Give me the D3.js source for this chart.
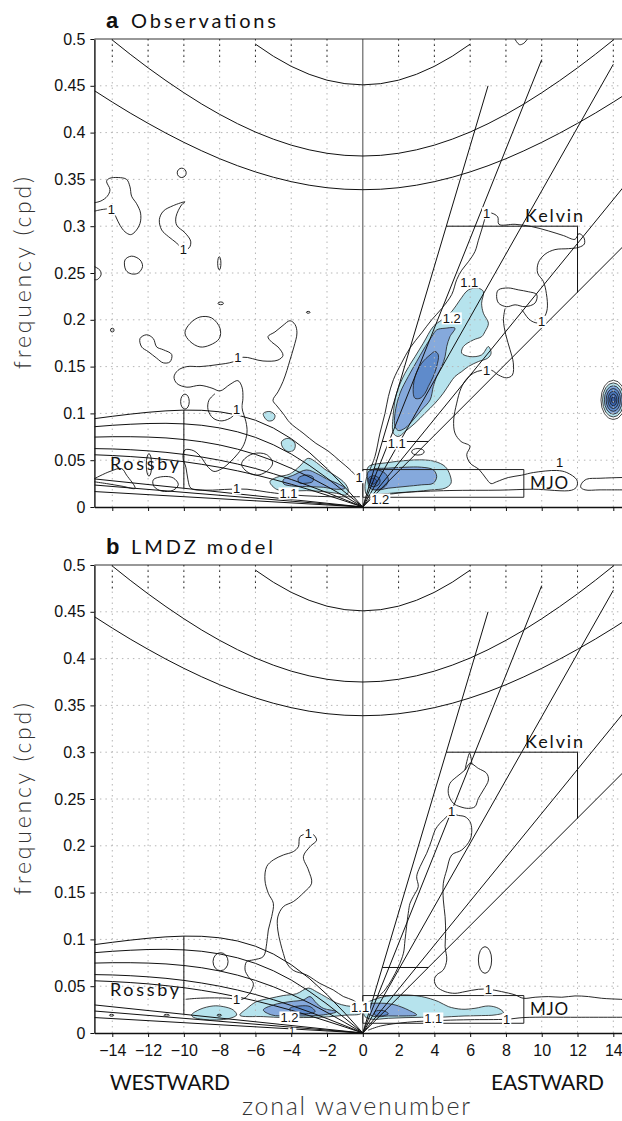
<!DOCTYPE html>
<html>
<head>
<meta charset="utf-8">
<script src="https://d3js.org/d3.v7.min.js"></script>
<style>
  body { margin: 0; background: #fff; }
  svg { display: block; }
</style>
</head>
<body>
<svg id="chart"></svg>
<script>
// ---------- axis values ----------
const xTicks = [-14, -12, -10, -8, -6, -4, -2, 0, 2, 4, 6, 8, 10, 12, 14];
const yTicks = [0, 0.05, 0.1, 0.15, 0.2, 0.25, 0.3, 0.35, 0.4, 0.45, 0.5];

// ---------- theoretical dispersion curves ----------
const erS = [0, -1, -2, -3, -4, -5, -6, -7, -8, -9, -10, -11, -12, -13, -14, -15];
const erH8  = [0, 0.0064, 0.0126, 0.0186, 0.0243, 0.0295, 0.0343, 0.0386, 0.0424, 0.0456, 0.0484, 0.0506, 0.0525, 0.0539, 0.0550, 0.0558];
const erH12 = [0, 0.0078, 0.0154, 0.0226, 0.0294, 0.0356, 0.0411, 0.0459, 0.0500, 0.0534, 0.0562, 0.0584, 0.0600, 0.0612, 0.0620, 0.0624];
const erH25 = [0, 0.0112, 0.0220, 0.0322, 0.0413, 0.0494, 0.0562, 0.0618, 0.0663, 0.0697, 0.0721, 0.0738, 0.0747, 0.0751, 0.0751, 0.0747];
const erH50 = [0, 0.0158, 0.0309, 0.0446, 0.0566, 0.0665, 0.0744, 0.0803, 0.0845, 0.0873, 0.0888, 0.0894, 0.0892, 0.0884, 0.0873, 0.0858];
const erH90 = [0, 0.0212, 0.0410, 0.0585, 0.0730, 0.0844, 0.0927, 0.0983, 0.1017, 0.1033, 0.1035, 0.1027, 0.1012, 0.0992, 0.0969, 0.0944];
const westLineEnds = [0.030, 0.0235, 0.0165];          // f at s = -15, lines from origin

const igS8 = [-15,-14,-13,-12,-11,-10,-9,-8,-7,-6,-5,-4,-3,-2,-1,0,1,2,3,4,5,6,7,8,9,10,11,12,13,14,15];
const igH8 = [0.4448,0.4326,0.4209,0.4099,0.3994,0.3896,0.3805,0.3721,0.3646,0.3580,0.3523,0.3476,0.3438,0.3411,0.3395,0.3390,
              0.3395,0.3411,0.3438,0.3476,0.3523,0.3580,0.3646,0.3721,0.3805,0.3896,0.3994,0.4099,0.4209,0.4326,0.4448];
const igS12 = [-14,-13,-12,-11,-10,-9,-8,-7,-6,-5,-4,-3,-2,-1,0,1,2,3,4,5,6,7,8,9,10,11,12,13,14];
const igH12 = [0.4989,0.4837,0.4692,0.4555,0.4426,0.4305,0.4195,0.4095,0.4006,0.3930,0.3866,0.3816,0.3779,0.3757,0.3750,
               0.3757,0.3779,0.3816,0.3866,0.3930,0.4006,0.4095,0.4195,0.4305,0.4426,0.4555,0.4692,0.4837,0.4989];
const igS25 = [-6,-5,-4,-3,-2,-1,0,1,2,3,4,5,6];
const igH25 = [0.4945,0.4816,0.4708,0.4623,0.4560,0.4523,0.4510,0.4523,0.4560,0.4623,0.4708,0.4816,0.4945];

const kelvinEnds = [[15, 0.287], [15, 0.352], [14, 0.473], [10, 0.478], [7, 0.450]]; // h = 8, 12, 25, 50, 90

const rossbyBox = [[-10, 0.020], [-10, 0.1035]];
const kelvinBoxLow = [[1.09, 0.07], [3.66, 0.07]];
const kelvinBoxHigh = [[4.67, 0.3], [12, 0.3], [12, 0.229]];
const mjoBox = [[0, 0.0104], [9, 0.0104], [9, 0.04], [0, 0.04]];

const boxNames = ['Kelvin', 'MJO', 'Rossby'];
const boxNamePos = [[9.07, 0.305], [9.35, 0.0195], [-14.13, 0.040]];

// ---------- panel a: observations ----------
const obsRossbyCyan = [[-5.19,0.027],[-4.82,0.0317],[-4.07,0.0353],[-3.51,0.0439],[-3.05,0.052],[-2.58,0.0474],[-2.12,0.0403],[-1.46,0.0325],[-1.0,0.0253],[-0.81,0.0182],[-0.9,0.0129],[-1.46,0.0146],[-2.21,0.0164],[-3.14,0.0175],[-4.07,0.0172],[-4.82,0.0189]];
const obsRossbyMid = [[-4.45,0.0289],[-3.85,0.0342],[-3.14,0.0396],[-2.49,0.035],[-1.99,0.0296],[-1.43,0.0253],[-1.0,0.020],[-1.46,0.0189],[-2.21,0.0211],[-3.14,0.0218],[-3.98,0.0225],[-4.41,0.0246]];
const obsRossbyDark = [[-3.61,0.0307],[-3.14,0.0342],[-2.77,0.0317],[-2.81,0.0271],[-3.23,0.0253],[-3.55,0.0258]];
const obsBlobA = [[-5.56,0.100],[-5.19,0.102],[-4.91,0.098],[-5.0,0.093],[-5.28,0.092],[-5.47,0.095]];
const obsBlobB = [[-4.54,0.0698],[-4.17,0.0734],[-3.79,0.068],[-3.85,0.0609],[-4.17,0.0592],[-4.48,0.0638]];
const obsKelvinCyan = [[1.71,0.0788],[1.71,0.1002],[1.89,0.1216],[2.36,0.143],[2.92,0.1607],[3.38,0.175],[3.94,0.1928],[4.41,0.1999],[4.97,0.2088],[5.43,0.2212],[5.9,0.2319],[6.46,0.2337],[6.74,0.2301],[6.64,0.2177],[6.74,0.207],[7.02,0.1963],[6.83,0.1874],[6.64,0.182],[6.18,0.1785],[5.62,0.1714],[5.53,0.1643],[5.99,0.1607],[6.64,0.1625],[7.02,0.1714],[7.17,0.1643],[6.98,0.159],[6.46,0.1554],[5.9,0.1501],[5.53,0.1447],[5.15,0.1394],[4.87,0.1322],[4.5,0.1216],[4.04,0.1109],[3.48,0.1002],[2.92,0.0895],[2.36,0.0806],[1.99,0.0753]];
const obsKelvinMid = [[1.8,0.086],[1.8,0.1002],[2.08,0.1216],[2.54,0.1394],[3.01,0.1554],[3.38,0.1678],[3.85,0.182],[4.13,0.1892],[4.6,0.191],[5.15,0.191],[4.87,0.182],[4.69,0.1714],[4.6,0.1607],[4.41,0.1501],[4.13,0.1394],[3.94,0.1287],[3.76,0.1144],[3.29,0.1038],[2.82,0.0931],[2.36,0.0842],[1.99,0.0817]];
const obsKelvinDark = [[2.82,0.1216],[2.92,0.1394],[3.29,0.1536],[3.76,0.1625],[4.04,0.1661],[4.22,0.1625],[4.13,0.1501],[3.94,0.1394],[3.66,0.1287],[3.48,0.1216],[3.2,0.1162],[2.92,0.1162]];
const obsMjoCyan = [[0.31,0.043],[1.43,0.0475],[2.36,0.0496],[3.29,0.0504],[4.04,0.0486],[4.6,0.0432],[4.87,0.0343],[4.93,0.0254],[4.6,0.0201],[3.85,0.0183],[2.92,0.0165],[1.99,0.0148],[1.24,0.013],[0.59,0.0112],[0.22,0.013],[0.12,0.0219],[0.22,0.0326]];
const obsMjoMid = [[0.5,0.0397],[1.43,0.0415],[2.36,0.0425],[3.29,0.0425],[3.94,0.0397],[4.13,0.0326],[3.94,0.0254],[3.29,0.0237],[2.36,0.0219],[1.43,0.0201],[0.68,0.0183],[0.40,0.0237],[0.35,0.0326]];
const obsMjoDark = [[0.31,0.0379],[0.78,0.0397],[1.24,0.0361],[1.43,0.029],[1.24,0.0219],[0.78,0.0183],[0.40,0.0201],[0.27,0.029]];
const obsMjoCore = [[0.35,0.0315],[0.68,0.0333],[0.96,0.029],[0.87,0.0237],[0.5,0.0219],[0.31,0.0265]];
const obsMjoPeak = [[0.42,0.0300],[0.65,0.0305],[0.78,0.0275],[0.6,0.0245],[0.42,0.026]];

const obsOpenLines = [
  [[-15.01,0.325],[-14.63,0.327],[-14.28,0.332],[-14.13,0.339],[-14.32,0.348],[-14.17,0.351],[-13.67,0.352],[-13.2,0.35],[-13.01,0.342],[-12.92,0.332],[-12.64,0.324],[-12.42,0.314],[-12.45,0.303],[-12.73,0.294],[-12.98,0.291],[-13.29,0.294],[-13.57,0.301],[-13.8,0.31],[-14.0,0.318],[-14.5,0.318],[-15.01,0.316]],
  [[-15.01,0.257],[-14.69,0.253],[-14.63,0.248],[-14.84,0.243],[-15.01,0.243]],
  [[-0.27,0.031],[-0.72,0.040],[-1.27,0.049],[-1.95,0.060],[-2.62,0.068],[-3.34,0.079],[-4.07,0.090],[-4.46,0.100],[-4.80,0.108],[-5.02,0.114],[-4.74,0.123],[-4.46,0.134],[-4.24,0.146],[-4.07,0.157],[-3.85,0.171],[-3.68,0.186],[-3.79,0.195],[-4.07,0.199],[-4.46,0.194],[-4.91,0.187],[-5.30,0.182],[-5.08,0.176],[-4.74,0.171],[-4.46,0.162],[-4.74,0.157],[-5.58,0.156],[-6.70,0.160],[-7.26,0.155],[-8.15,0.152],[-9.10,0.150],[-9.83,0.150],[-10.33,0.146],[-10.55,0.139],[-10.39,0.132],[-9.83,0.128],[-9.10,0.130],[-8.43,0.127],[-7.98,0.124],[-7.42,0.131],[-6.98,0.135],[-6.75,0.128],[-6.70,0.116],[-6.75,0.106],[-6.53,0.091],[-6.47,0.080],[-6.64,0.067],[-6.98,0.057],[-7.42,0.048],[-7.87,0.041],[-8.32,0.038],[-8.71,0.044],[-8.99,0.052],[-9.44,0.060],[-9.94,0.061],[-10.05,0.053],[-9.88,0.042],[-9.77,0.029],[-9.60,0.020],[-8.71,0.018],[-7.42,0.019],[-6.47,0.019],[-5.36,0.016],[-4.52,0.014],[-3.23,0.012],[-1.83,0.011],[-0.16,0.011]],
  [[-6.86,0.109],[-7.26,0.097],[-7.87,0.092],[-8.37,0.095],[-8.65,0.104],[-8.60,0.114],[-8.26,0.121]],
  [[-15.03,0.030],[-14.13,0.038],[-13.48,0.041],[-13.2,0.034],[-12.73,0.020],[-13.39,0.022],[-14.32,0.025],[-15.03,0.027]],
  [[0.40,0.040],[0.68,0.054],[0.96,0.079],[1.24,0.100],[1.43,0.118],[1.71,0.136],[2.17,0.154],[2.64,0.170],[3.29,0.186],[3.85,0.200],[4.41,0.212],[4.97,0.227],[5.25,0.243],[5.53,0.253],[5.9,0.262],[6.27,0.273],[6.46,0.285],[6.64,0.296],[6.83,0.3085],[6.92,0.314]],
  [[6.92,0.314],[7.2,0.314],[7.54,0.310],[7.61,0.302],[8.51,0.302],[9.44,0.2996],[10.37,0.295],[11.21,0.290],[11.86,0.286],[12.08,0.292],[12.35,0.288],[12.38,0.281],[12.08,0.2775],[11.49,0.276],[10.74,0.275],[10.18,0.270],[9.81,0.261],[9.77,0.250],[10.09,0.241],[10.26,0.228],[10.31,0.212],[10.15,0.203],[9.85,0.197],[9.63,0.197],[9.29,0.2006],[9.03,0.207],[8.88,0.211]],
  [[7.95,0.212],[7.86,0.200],[7.99,0.184],[8.23,0.168],[8.41,0.154],[8.36,0.141],[8.04,0.138],[7.58,0.141],[7.2,0.146],[6.64,0.146],[6.18,0.143],[5.81,0.137],[5.49,0.127],[5.25,0.111],[5.08,0.093],[5.15,0.079],[5.49,0.070],[5.99,0.065],[5.81,0.056],[5.99,0.047],[6.5,0.040],[6.87,0.031],[7.17,0.025],[7.48,0.027],[8.13,0.0315],[8.88,0.034],[9.53,0.0368],[10.84,0.039],[11.4,0.0368],[11.96,0.029],[11.96,0.022],[11.68,0.018],[9.53,0.019],[7.67,0.018],[4.87,0.0176],[2.08,0.0154],[0.6,0.013]],
  [[15.1,0.0315],[14.49,0.0315],[13.26,0.0307],[12.51,0.0297],[12.24,0.0254],[12.18,0.0211],[12.42,0.0183],[13.26,0.0183],[15.1,0.0183]],
  [[8.5,0.5],[8.75,0.494],[9.0,0.4955],[9.2,0.5]]
];
const obsClosedLines = [
  [[-9.94,0.326],[-10.12,0.323],[-10.44,0.310],[-10.4,0.301],[-9.94,0.293],[-9.62,0.284],[-9.70,0.277],[-10.03,0.275],[-10.4,0.282],[-10.87,0.289],[-11.24,0.296],[-11.37,0.307],[-11.15,0.316],[-10.59,0.322]],
  [[-13.29,0.264],[-12.92,0.268],[-12.45,0.264],[-12.31,0.257],[-12.55,0.250],[-12.92,0.249],[-13.24,0.253]],
  [[-12.45,0.180],[-12.08,0.184],[-11.71,0.180],[-11.52,0.171],[-11.15,0.168],[-10.68,0.163],[-10.78,0.155],[-11.15,0.154],[-11.52,0.159],[-11.99,0.166],[-12.36,0.171]],
  [[-9.10,0.203],[-8.45,0.202],[-7.98,0.191],[-8.02,0.180],[-8.54,0.173],[-9.10,0.171],[-9.66,0.177],[-9.94,0.186],[-9.66,0.196]],
  [[-11.71,0.029],[-11.15,0.0325],[-10.59,0.031],[-10.31,0.024],[-10.59,0.018],[-11.24,0.017],[-11.67,0.022]],
  [[-6.68,0.050],[-6.12,0.057],[-5.38,0.056],[-5.04,0.047],[-5.38,0.038],[-5.94,0.034],[-6.49,0.038],[-6.77,0.045]],
  [[7.58,0.232],[8.13,0.234],[8.69,0.232],[9.25,0.230],[9.72,0.227],[9.63,0.218],[9.07,0.214],[8.51,0.216],[8.04,0.214],[7.58,0.218],[7.48,0.227]]
];
// small closed contours: [s, f, half-width in s, half-height in f]
const obsDots = [[-10.12,0.357,0.25,0.005],[-8.02,0.2604,0.09,0.007],[-7.94,0.2176,0.15,0.0015],[-3.05,0.208,0.1,0.001],
                 [-14.0,0.189,0.1,0.002],[-9.94,0.1126,0.24,0.008],[-11.95,0.045,0.15,0.012],[3.08,0.059,0.35,0.0035]];
// isolated peak near s = 14
const obsPeak = [14.0, 0.1144];
const obsPeakRings = [[0.69,0.021],[0.6,0.0182],[0.5,0.0152],[0.4,0.0122],[0.3,0.0092],[0.2,0.0062],[0.1,0.0032]];
const obsPeakLevels = [1.0, 1.1, 1.2, 1.3, 1.4, 1.5, 1.5];
const obsLabelText = ['1','1','1','1','1','1.1','1','1.1','1.2','1','1','1.1','1','1.2','1'];
const obsLabelPos = [[-14.05,0.318],[-10.03,0.275],[-6.98,0.160],[-7.05,0.104],[-7.05,0.020],[-4.15,0.0147],[6.92,0.314],[5.95,0.240],[4.97,0.2017],[10.0,0.198],[6.92,0.1465],[1.9,0.068],[11.0,0.0475],[0.98,0.0083],[-0.2,0.032]];

// ---------- panel b: LMDZ model ----------
const modRossbyCyan = [[-6.87,0.019],[-6.49,0.026],[-5.94,0.0335],[-5.19,0.037],[-4.45,0.040],[-3.7,0.042],[-3.05,0.048],[-2.58,0.044],[-2.02,0.038],[-1.46,0.032],[-0.9,0.029],[-0.2,0.027],[-0.1,0.021],[-1.0,0.019],[-2.2,0.017],[-3.3,0.0165],[-4.45,0.0165],[-5.56,0.0175]];
const modRossbyMid = [[-5.56,0.0246],[-5.0,0.030],[-4.07,0.0335],[-3.33,0.0353],[-2.95,0.0389],[-2.58,0.0317],[-2.21,0.0264],[-1.46,0.0228],[-2.21,0.0193],[-3.14,0.0182],[-4.07,0.0182],[-5.1,0.0193]];
const modRossbyDark = [[-4.07,0.0264],[-3.51,0.0289],[-2.95,0.0282],[-2.67,0.0228],[-3.33,0.0203],[-3.98,0.0218]];
const modWestBlob = [[-9.57,0.0193],[-9.1,0.0253],[-8.36,0.0289],[-7.8,0.0282],[-7.24,0.0246],[-7.05,0.0193],[-7.43,0.0157],[-8.17,0.0139],[-8.92,0.0146],[-9.47,0.0168]];
const modMjoCyan = [[0.22,0.0318],[1.05,0.0382],[2.17,0.0407],[3.29,0.0389],[4.22,0.0336],[4.78,0.0282],[5.53,0.0254],[6.27,0.0264],[7.02,0.0289],[7.58,0.0264],[7.86,0.0218],[7.39,0.0193],[6.64,0.0186],[5.71,0.0182],[4.97,0.0175],[4.22,0.0168],[3.29,0.0168],[2.36,0.0164],[1.43,0.0157],[0.5,0.0147],[0.12,0.0175],[0.03,0.0246]];
const modMjoMid = [[0.31,0.030],[1.05,0.0318],[1.8,0.030],[2.54,0.0246],[3.01,0.0193],[2.36,0.0182],[1.43,0.0182],[0.68,0.0175],[0.31,0.0211]];
const modMjoDark = [[0.68,0.0229],[1.15,0.0239],[1.43,0.0204],[0.96,0.0182],[0.68,0.0193]];

const modOpenLines = [
  [[-3.04,0.2134],[-3.51,0.2098],[-3.60,0.1991],[-3.88,0.1938],[-4.44,0.1902],[-5.0,0.1849],[-5.37,0.1778],[-5.47,0.1635],[-5.28,0.1493],[-5.0,0.1386],[-5.09,0.1244],[-5.28,0.1101],[-5.37,0.0959],[-5.56,0.0817],[-6.12,0.0781],[-6.49,0.0763],[-6.58,0.0674],[-6.4,0.0603],[-6.12,0.0532],[-6.21,0.046],[-6.49,0.0389],[-6.86,0.0354],[-7.43,0.037],[-8.3,0.0375],[-9.3,0.037],[-9.9,0.036]],
  [[-3.04,0.2134],[-2.86,0.2134],[-2.58,0.2062],[-2.95,0.1991],[-3.32,0.1884],[-3.04,0.1742],[-2.86,0.16],[-3.3,0.150],[-3.88,0.1404],[-4.44,0.135],[-4.75,0.124],[-4.75,0.110],[-4.6,0.096],[-4.44,0.085],[-4.26,0.075],[-3.89,0.067],[-3.14,0.062],[-2.4,0.053],[-1.65,0.046],[-1.09,0.039],[-0.54,0.035],[-0.2,0.030]],
  [[0.68,0.0353],[1.24,0.046],[1.61,0.0567],[1.99,0.0709],[2.27,0.0852],[2.36,0.0994],[2.54,0.1279],[2.64,0.1386],[2.82,0.1457],[3.1,0.1564],[3.01,0.167],[3.2,0.1777],[3.57,0.192],[3.85,0.2062],[4.04,0.2169],[4.31,0.224],[4.69,0.2311],[4.97,0.2365],[5.25,0.2329],[5.71,0.2311],[5.99,0.2258],[6.09,0.2169],[5.99,0.2062],[5.53,0.1955],[4.97,0.1902],[4.69,0.1742],[4.5,0.1599],[4.5,0.1421],[4.6,0.1243],[4.63,0.1065],[4.6,0.0923],[4.69,0.078],[4.5,0.0674],[4.13,0.062],[4.0,0.0567],[4.13,0.0496],[4.6,0.0442],[5.15,0.0424],[5.71,0.0442],[6.46,0.0467],[7.02,0.0467],[7.76,0.0442],[8.51,0.0407],[8.97,0.0371],[9.63,0.0382],[10.37,0.0389],[11.12,0.0382],[11.86,0.0396],[12.61,0.0389],[13.35,0.0371],[14.4,0.036],[15.1,0.0355]],
  [[0.3,0.003],[1.0,0.0075],[2.5,0.0115],[4.5,0.0135],[6.0,0.0142],[8.04,0.0147],[9.0,0.0165],[12.0,0.0168],[15.1,0.0168]],
  [[5.71,0.281],[5.97,0.299],[6.1,0.287]]
];
const modClosedLines = [
  [[5.99,0.288],[6.46,0.2827],[6.92,0.2774],[7.02,0.2703],[6.74,0.2596],[6.46,0.2507],[6.27,0.2418],[5.9,0.240],[5.43,0.2418],[5.06,0.2454],[4.78,0.256],[4.87,0.2667],[5.25,0.2738],[5.71,0.281]]
];
const modDots = [[-7.95,0.0762,0.42,0.0096],[6.83,0.078,0.37,0.0142],[-14.04,0.019,0.12,0.001],[-10.96,0.019,0.15,0.001],[-8.02,0.019,0.12,0.001]];
const modLabelText = ['1','1','1','1.2','1.1','1','1','1.1','1'];
const modLabelSize = [13, 13, 10, 13, 13, 13, 13, 13, 13];
const modLabelPos = [[-3.04,0.2134],[-7.05,0.036],[-3.95,0.0015],[-4.1,0.0168],[-0.15,0.0275],[4.97,0.2365],[7.02,0.0467],[3.94,0.0157],[8.04,0.0147]];
const obsLabelSize = obsLabelText.map(() => 13);

// ---------- drawing ----------
const width = 622, height = 1121;
const levelColor = {1.1: '#b6e3ed', 1.2: '#85a9dc', 1.3: '#5f8bcb', 1.4: '#4a77bd', 1.5: '#3a63ae'};
const sansFont = '"Liberation Sans", Arial, sans-serif';
const thinFont = 'Lato, "Open Sans", sans-serif';

const svg = d3.select('#chart').attr('width', width).attr('height', height);
const x = d3.scaleLinear().domain([-15, 15]).range([94.4, 631.2]);

const panels = [
  { key: 'a', title: 'Observations', titleLen: 145, top: 39, bottom: 507, labels: false,
    fills: [[obsRossbyCyan,1.1],[obsRossbyMid,1.2],[obsRossbyDark,1.3],[obsBlobA,1.1],[obsBlobB,1.1],
            [obsKelvinCyan,1.1],[obsKelvinMid,1.2],[obsKelvinDark,1.3],
            [obsMjoCyan,1.1],[obsMjoMid,1.2],[obsMjoDark,1.3],[obsMjoCore,1.4],[obsMjoPeak,1.5]],
    open: obsOpenLines, closed: obsClosedLines, dots: obsDots, peak: true,
    labelText: obsLabelText, labelPos: obsLabelPos, labelSize: obsLabelSize },
  { key: 'b', title: 'LMDZ  model', titleLen: 142, top: 565, bottom: 1033, labels: true,
    fills: [[modRossbyCyan,1.1],[modRossbyMid,1.2],[modRossbyDark,1.3],[modWestBlob,1.1],
            [modMjoCyan,1.1],[modMjoMid,1.2],[modMjoDark,1.3]],
    open: modOpenLines, closed: modClosedLines, dots: modDots, peak: false,
    labelText: modLabelText, labelPos: modLabelPos, labelSize: modLabelSize }
];

panels.forEach(p => {
  const y = d3.scaleLinear().domain([0, 0.5]).range([p.bottom, p.top]);
  const g = svg.append('g');

  svg.append('clipPath').attr('id', 'clip-' + p.key)
    .append('rect')
    .attr('x', x(-15)).attr('y', p.top)
    .attr('width', x(15) - x(-15)).attr('height', p.bottom - p.top);
  const plot = g.append('g').attr('clip-path', `url(#clip-${p.key})`);

  const straight = d3.line().x(d => x(d[0])).y(d => y(d[1]));
  const smooth = d3.line().x(d => x(d[0])).y(d => y(d[1])).curve(d3.curveCatmullRom.alpha(0.5));
  const smoothClosed = d3.line().x(d => x(d[0])).y(d => y(d[1])).curve(d3.curveCatmullRomClosed.alpha(0.5));

  // shaded levels
  p.fills.forEach(([pts, lev]) => {
    plot.append('path').attr('d', smoothClosed(pts))
      .attr('fill', levelColor[lev]).attr('stroke', '#1a1a1a').attr('stroke-width', 0.8);
  });
  if (p.peak) {
    obsPeakRings.forEach((r, i) => {
      const lev = obsPeakLevels[i];
      plot.append('ellipse')
        .attr('cx', x(obsPeak[0])).attr('cy', y(obsPeak[1]))
        .attr('rx', x(obsPeak[0] + r[0]) - x(obsPeak[0]))
        .attr('ry', y(obsPeak[1]) - y(obsPeak[1] + r[1]))
        .attr('fill', lev > 1 ? levelColor[lev] : 'none')
        .attr('stroke', '#1a1a1a').attr('stroke-width', 0.8);
    });
  }

  // dotted grid
  yTicks.filter(v => v > 0 && v < 0.5).forEach(v => {
    plot.append('line').attr('x1', x(-15)).attr('x2', x(15)).attr('y1', y(v)).attr('y2', y(v))
      .attr('stroke', '#b5b5b5').attr('stroke-width', 1).attr('stroke-dasharray', '1.5,4');
  });
  xTicks.filter(v => v !== 0).forEach(v => {
    plot.append('line').attr('x1', x(v)).attr('x2', x(v)).attr('y1', y(0)).attr('y2', y(0.5))
      .attr('stroke', '#b5b5b5').attr('stroke-width', 1).attr('stroke-dasharray', '1.5,4');
    plot.append('line').attr('x1', x(v)).attr('x2', x(v)).attr('y1', y(0.5)).attr('y2', y(0.474))
      .attr('stroke', '#222').attr('stroke-width', 1).attr('stroke-dasharray', '1.5,4');
  });
  plot.append('line').attr('x1', x(0)).attr('x2', x(0)).attr('y1', y(0)).attr('y2', y(0.5))
    .attr('stroke', '#666').attr('stroke-width', 1.2);

  // dispersion curves
  const curve = pts => plot.append('path').attr('d', straight(pts))
    .attr('fill', 'none').attr('stroke', '#111').attr('stroke-width', 1);
  [erH8, erH12, erH25, erH50, erH90].forEach(vals => curve(erS.map((s, i) => [s, vals[i]])));
  westLineEnds.forEach(f => curve([[0, 0], [-15, f]]));
  curve(igS8.map((s, i) => [s, igH8[i]]));
  curve(igS12.map((s, i) => [s, igH12[i]]));
  curve(igS25.map((s, i) => [s, igH25[i]]));
  kelvinEnds.forEach(e => curve([[0, 0], e]));

  // filter boxes
  curve(rossbyBox);
  curve(kelvinBoxLow);
  curve(kelvinBoxHigh);
  plot.append('path').attr('d', straight(mjoBox) + 'Z')
    .attr('fill', 'none').attr('stroke', '#222').attr('stroke-width', 1);

  // contour lines
  p.open.forEach(pts => plot.append('path').attr('d', smooth(pts))
    .attr('fill', 'none').attr('stroke', '#111').attr('stroke-width', 0.9));
  p.closed.forEach(pts => plot.append('path').attr('d', smoothClosed(pts))
    .attr('fill', 'none').attr('stroke', '#111').attr('stroke-width', 0.9));
  p.dots.forEach(d => plot.append('ellipse')
    .attr('cx', x(d[0])).attr('cy', y(d[1]))
    .attr('rx', x(d[0] + d[2]) - x(d[0])).attr('ry', y(d[1]) - y(d[1] + d[3]))
    .attr('fill', 'none').attr('stroke', '#111').attr('stroke-width', 0.9));

  // contour labels with white background
  const labLayer = plot.append('g');
  p.labelText.forEach((t, i) => {
    const pos = p.labelPos[i];
    const txt = labLayer.append('text')
      .attr('x', x(pos[0])).attr('y', y(pos[1])).attr('dy', '0.36em')
      .attr('text-anchor', 'middle')
      .style('font-family', sansFont).style('font-size', p.labelSize[i] + 'px').attr('fill', '#111')
      .text(t);
    const b = txt.node().getBBox();
    labLayer.insert('rect', () => txt.node())
      .attr('x', b.x - 1).attr('y', b.y + 1.5).attr('width', b.width + 2).attr('height', b.height - 3)
      .attr('fill', '#fff');
  });

  // box names
  boxNames.forEach((name, i) => {
    const pos = boxNamePos[i];
    plot.append('text').attr('x', x(pos[0])).attr('y', y(pos[1]))
      .style('font-family', thinFont).style('font-size', name === 'MJO' ? '17px' : '18px')
      .attr('fill', '#111')
      .attr('textLength', [58, 38, 69][i]).attr('lengthAdjust', 'spacing')
      .text(name);
  });

  // axes
  const yAxis = d3.axisLeft(y).tickValues(yTicks).tickSize(4).tickSizeOuter(0).tickPadding(5)
    .tickFormat(d3.format('~g'));
  g.append('g').attr('transform', `translate(${x(-15)},0)`).call(yAxis)
    .attr('font-size', 16).attr('font-family', sansFont)
    .call(a => a.select('.domain').attr('stroke', '#111').attr('stroke-width', 1.4))
    .call(a => a.selectAll('.tick line').attr('stroke', '#111'))
    .call(a => a.selectAll('.tick text').attr('fill', '#111'));

  const xAxis = d3.axisBottom(x).tickValues(xTicks).tickSize(4).tickSizeOuter(0).tickPadding(8);
  if (!p.labels) xAxis.tickFormat('');
  g.append('g').attr('transform', `translate(0,${p.bottom})`).call(xAxis)
    .attr('font-size', 16).attr('font-family', sansFont)
    .call(a => a.select('.domain').attr('stroke', '#111').attr('stroke-width', 1.6))
    .call(a => a.selectAll('.tick line').attr('stroke', '#111'))
    .call(a => a.selectAll('.tick text').attr('fill', '#111'));

  g.append('line').attr('x1', x(-15)).attr('x2', x(15)).attr('y1', p.top).attr('y2', p.top)
    .attr('stroke', '#333').attr('stroke-width', 1.2);

  // title
  g.append('text').attr('x', 106).attr('y', p.top - 11)
    .style('font-family', sansFont).style('font-weight', 'bold').style('font-size', '22px')
    .attr('fill', '#111').text(p.key);
  g.append('text').attr('x', 131).attr('y', p.top - 11)
    .style('font-family', thinFont).style('font-size', '20px').attr('fill', '#111')
    .attr('textLength', p.titleLen).attr('lengthAdjust', 'spacing')
    .text(p.title);

  // y label
  const yMid = (p.top + p.bottom) / 2;
  g.append('text').attr('transform', `translate(31,${yMid}) rotate(-90)`)
    .attr('text-anchor', 'middle')
    .style('font-family', thinFont).style('font-weight', 300).style('font-size', '23px').attr('fill', '#333')
    .attr('textLength', 192).attr('lengthAdjust', 'spacing')
    .text('frequency (cpd)');
});

// bottom labels
svg.append('text').attr('x', 110).attr('y', 1090)
  .style('font-family', thinFont).style('font-size', '21px').attr('fill', '#111')
  .attr('textLength', 120).attr('lengthAdjust', 'spacing').text('WESTWARD');
svg.append('text').attr('x', 491).attr('y', 1090)
  .style('font-family', thinFont).style('font-size', '21px').attr('fill', '#111')
  .attr('textLength', 113).attr('lengthAdjust', 'spacing').text('EASTWARD');
svg.append('text').attr('x', 242).attr('y', 1115)
  .style('font-family', thinFont).style('font-weight', 300).style('font-size', '25px').attr('fill', '#333')
  .attr('textLength', 228).attr('lengthAdjust', 'spacing').text('zonal wavenumber');
</script>
</body>
</html>
